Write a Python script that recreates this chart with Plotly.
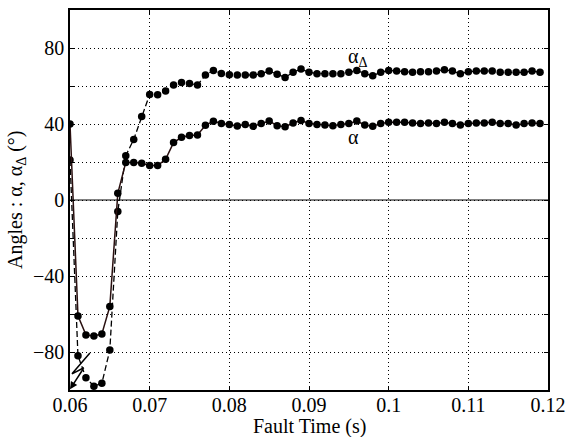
import plotly.graph_objects as go

# ---- data ----
time_s = [round(0.060 + 0.001 * k, 3) for k in range(60)]

alpha = [40, -61, -71, -71.6, -70.5, -56, 3.5, 19.8, 19.8, 19.3,
         18.1, 18.1, 21.4, 30.2, 33, 34, 34.2, 39.3, 41.5, 40.3,
         39.7, 39.0, 39.8, 38.8, 40.2, 41.6, 39.1, 38.6, 40.5, 41.9,
         40.2, 39.8, 39.5, 39.1, 39.8, 40.2, 41.6, 39.5, 38.8, 40.2,
         40.9, 40.9, 40.9, 40.5, 40.2, 40.5, 40.2, 40.9, 40.2, 39.5,
         40.2, 40.5, 40.5, 40.9, 40.2, 40.2, 39.5, 40.2, 40.5, 40.2]

alpha_delta = [21, -82, -93.5, -98, -96.5, -79, -6, 23.3, 31.9, 43.9,
               55.5, 55.4, 57.4, 60.5, 61.9, 61.3, 60.5, 65.8, 68.2, 66.6,
               65.9, 65.8, 65.8, 65.8, 66.5, 67.9, 66.2, 64.5, 67.2, 68.9,
               67.2, 66.5, 66.5, 66.5, 66.5, 67.2, 68.2, 66.5, 65.4, 67.2,
               68.2, 67.9, 67.5, 67.2, 67.5, 67.5, 67.9, 68.6, 67.9, 66.5,
               67.5, 67.9, 67.9, 67.9, 67.2, 67.2, 67.2, 67.2, 67.9, 67.2]

x_tickvals = [0.06, 0.07, 0.08, 0.09, 0.10, 0.11, 0.12]
x_ticktext = ["0.06", "0.07", "0.08", "0.09", "0.1", "0.11", "0.12"]
y_tickvals = [-80, -60, -40, -20, 0, 20, 40, 60, 80]
y_ticktext = ["\u221280", "", "\u221240", "", "0", "", "40", "", "80"]

x_title = "Fault Time (s)"
y_title = "Angles : \u03b1, \u03b1<sub>\u0394</sub> (\u00b0)"

# break-symbol (off-scale indicator) path in data units
brk_x = [0.06250, 0.06025, 0.06175]
brk_y = [-80.5, -91.5, -88.3]
brk_tip = (0.0600, -99.6)

FONT = "Liberation Serif"
FS = 20

fig = go.Figure()
fig.add_trace(go.Scatter(
    x=time_s, y=alpha_delta, mode="lines+markers", name="\u03b1\u0394",
    line=dict(color="black", width=1.3, dash="6px,3px"),
    marker=dict(color="black", size=7.5)))
fig.add_trace(go.Scatter(
    x=time_s, y=alpha, mode="lines+markers", name="\u03b1",
    line=dict(color="#2a1010", width=1.5),
    marker=dict(color="black", size=7.5)))

# zero line
fig.add_shape(type="line", xref="paper", x0=0, x1=1, yref="y", y0=0, y1=0,
              line=dict(color="black", width=1))
# break symbol
fig.add_shape(type="path",
              path="M {} {} L {} {} L {} {}".format(brk_x[0], brk_y[0], brk_x[1], brk_y[1], brk_x[2], brk_y[2]),
              xref="x", yref="y", line=dict(color="black", width=1.5))
fig.add_annotation(x=brk_tip[0], y=brk_tip[1], ax=brk_x[2], ay=brk_y[2],
                   xref="x", yref="y", axref="x", ayref="y", text="",
                   showarrow=True, arrowhead=2, arrowsize=1, arrowwidth=1.5,
                   arrowcolor="black")

fig.add_annotation(x=0.0961, y=75, text="\u03b1<sub>\u0394</sub>", showarrow=False,
                   xref="x", yref="y", font=dict(family=FONT, size=FS, color="black"))
fig.add_annotation(x=0.0956, y=33, text="\u03b1", showarrow=False,
                   xref="x", yref="y", font=dict(family=FONT, size=FS, color="black"))

# axis titles
fig.add_annotation(x=0.5, y=0, xref="paper", yref="paper", yshift=-36,
                   text=x_title, showarrow=False, yanchor="middle",
                   font=dict(family=FONT, size=FS, color="black"))
fig.add_annotation(x=0, y=0.5, xref="paper", yref="paper", xshift=-54,
                   text=y_title, showarrow=False, textangle=-90,
                   xanchor="center", yanchor="middle",
                   font=dict(family=FONT, size=FS, color="black"))

fig.update_layout(
    template="none",
    width=566, height=437,
    margin=dict(l=70, r=18, t=10, b=47),
    paper_bgcolor="white", plot_bgcolor="white",
    showlegend=False,
    font=dict(family=FONT, size=FS, color="black"),
    xaxis=dict(range=[0.06, 0.12], tickvals=x_tickvals, ticktext=x_ticktext,
               automargin=False,
               showgrid=True, gridcolor="black", gridwidth=1, griddash="1px,3px",
               showline=True, linecolor="black", linewidth=1.5, mirror="ticks",
               ticks="inside", ticklen=4, tickcolor="black", zeroline=False,
               ticklabelstandoff=-4),
    yaxis=dict(range=[-100, 100], tickvals=y_tickvals, ticktext=y_ticktext,
               automargin=False,
               showgrid=True, gridcolor="black", gridwidth=1, griddash="1px,3px",
               showline=True, linecolor="black", linewidth=1.5, mirror="ticks",
               ticks="inside", ticklen=4, tickcolor="black", zeroline=False),
)

fig.write_html("out.html", config={"displayModeBar": False},
               post_script="document.body.style.margin='0';document.body.style.overflow='hidden';")
